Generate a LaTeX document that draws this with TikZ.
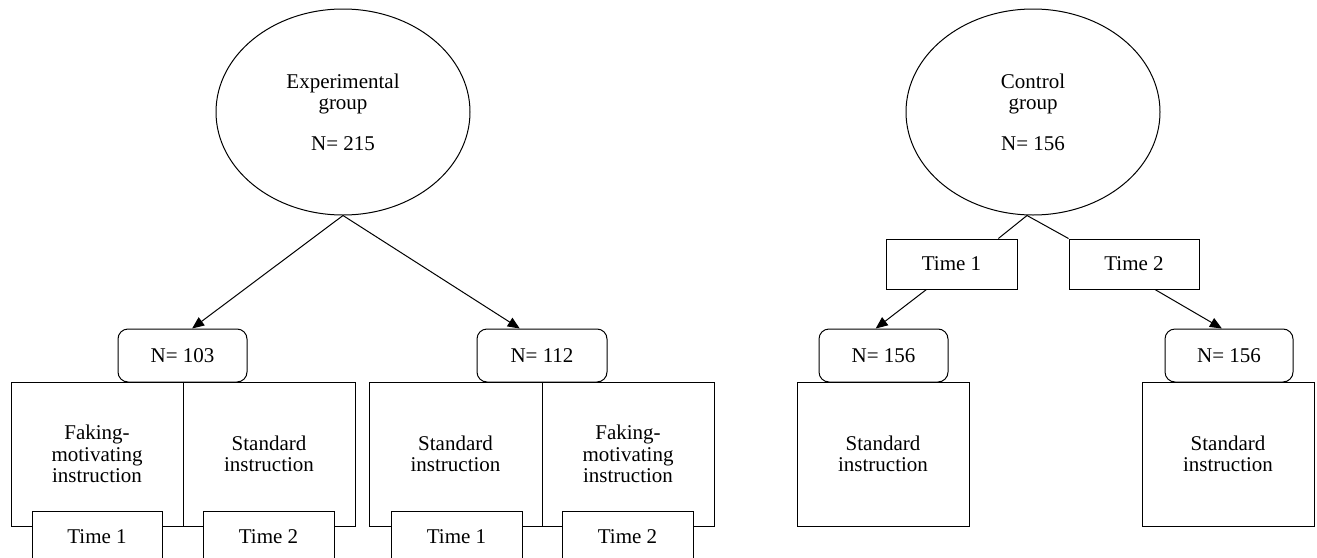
\documentclass[tikz,border=0pt]{standalone}
\usepackage{fontspec}
\setmainfont{Liberation Serif}
\usetikzlibrary{shapes.geometric,arrows.meta,calc}
\begin{document}
\begin{tikzpicture}[x=1pt,y=-1pt,
  every node/.style={font=\fontsize{21}{21.5}\selectfont, align=center, inner sep=0pt, line width=1pt, text=black},
  grp/.style={draw, ellipse, minimum width=254pt, minimum height=206pt},
  nbox/.style={draw, rounded corners=10pt, minimum height=53pt},
  ibox/.style={draw, minimum width=172pt, minimum height=144pt},
  tbox/.style={draw, fill=white, minimum height=52pt},
  ctbox/.style={draw, fill=white, minimum height=50pt},
  conn/.style={line width=1pt},
  arr/.style={line width=1pt, -{Triangle[length=12pt,width=10pt]}}]
\useasboundingbox (0,0) rectangle (1317,557);
\fill[white] (0,0) rectangle (1317,557);

% ---------- Experimental group ----------
\node[grp] (ell) at (343,112) {Experimental\\group\\[19pt]N= 215};

\node[ibox] (fm1) at (97,454) {Faking-\\motivating\\instruction};
\node[ibox] (st1) at (269,454) {Standard\\instruction};
\node[ibox, minimum width=173pt] (st2) at (455.5,454) {Standard\\instruction};
\node[ibox] (fm2) at (628,454) {Faking-\\motivating\\instruction};

\node[nbox, minimum width=129pt] (n103) at (182.5,355.5) {N= 103};
\node[nbox, minimum width=130pt] (n112) at (542,355.5) {N= 112};

\node[tbox, minimum width=130pt] (t1a) at (97,537) {Time 1};
\node[tbox, minimum width=131pt] (t2a) at (268.5,537) {Time 2};
\node[tbox, minimum width=131pt] (t1b) at (456.5,537) {Time 1};
\node[tbox, minimum width=131pt] (t2b) at (627.5,537) {Time 2};

\draw[arr] (ell.south) -- ($(n103.north west)!0.574!(n103.north east)$);
\draw[arr] (ell.south) -- ($(n112.north west)!0.33!(n112.north east)$);

% ---------- Control group ----------
\node[grp] (cell) at (1033,112) {Control\\group\\[19pt]N= 156};

\node[ctbox, minimum width=131pt] (ct1) at (951.5,264) {Time 1};
\node[ctbox, minimum width=130pt] (ct2) at (1134,264) {Time 2};

\node[ibox] (cs1) at (883,454) {Standard\\instruction};
\node[ibox] (cs2) at (1228,454) {Standard\\instruction};

\node[nbox, minimum width=129pt] (cn1) at (883.5,355.5) {N= 156};
\node[nbox, minimum width=128pt] (cn2) at (1229,355.5) {N= 156};

\coordinate (cb) at ($(cell.south)+(-6,0)$);
\draw[conn] (cb) -- ($(ct1.north west)!0.855!(ct1.north east)$);
\draw[conn] (cb) -- (ct2.north west);

\draw[arr] ($(ct1.south west)!0.31!(ct1.south east)$) -- ($(cn1.north west)!0.44!(cn1.north east)$);
\draw[arr] ($(ct2.south west)!0.66!(ct2.south east)$) -- ($(cn2.north west)!0.445!(cn2.north east)$);
\end{tikzpicture}
\end{document}
